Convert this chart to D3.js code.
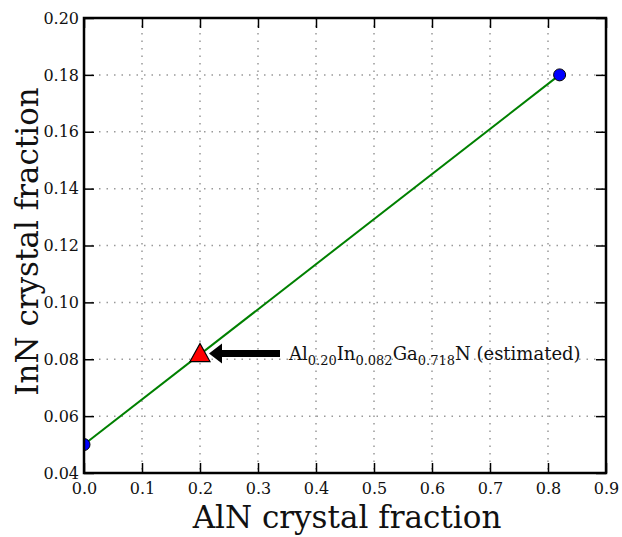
<!DOCTYPE html>
<html>
<head>
<meta charset="utf-8">
<script src="https://cdn.jsdelivr.net/npm/d3@7"></script>
<style>
	body { margin: 0; background: #fff; }
	text { font-family: "DejaVu Serif", serif; }
</style>
</head>
<body>
<script>
/* composition plot: AlN vs InN fraction, with an estimated point */
var xTicks = [0.0, 0.1, 0.2, 0.3, 0.4, 0.5, 0.6, 0.7, 0.8, 0.9];
var yTicks = [0.04, 0.06, 0.08, 0.10, 0.12, 0.14, 0.16, 0.18, 0.20];
var alnFrac = [0.0, 0.82];   // measured endpoints
var innFrac = [0.05, 0.18];
var estAl = [0.20];          // estimated composition
var estIn = [0.082];

var fullWidth = 622, fullHeight = 537;
var margin = {top: 18, right: 16, bottom: 64, left: 84},
	width = fullWidth - margin.left - margin.right,
	height = fullHeight - margin.top - margin.bottom;

var xScale = d3.scaleLinear().domain([0, 0.9]).range([0, width]);
var yScale = d3.scaleLinear().domain([0.04, 0.20]).range([height, 0]);

var svg = d3.select("body").append("svg")
	.attr("width", fullWidth)
	.attr("height", fullHeight)
	.append("g")
		.attr("transform", "translate(" + margin.left + "," + margin.top + ")");

svg.append("clipPath").attr("id", "clip")
	.append("rect").attr("width", width).attr("height", height);

// grid
svg.selectAll(".vgrid").data(xTicks).enter().append("line")
	.attr("x1", function(d) { return xScale(d); })
	.attr("x2", function(d) { return xScale(d); })
	.attr("y1", 0).attr("y2", height)
	.style("stroke", "#999").style("stroke-width", 1.5)
	.style("stroke-dasharray", "1.5,6");
svg.selectAll(".hgrid").data(yTicks).enter().append("line")
	.attr("y1", function(d) { return yScale(d); })
	.attr("y2", function(d) { return yScale(d); })
	.attr("x1", 0).attr("x2", width)
	.style("stroke", "#999").style("stroke-width", 1.5)
	.style("stroke-dasharray", "1.5,6");

// axes: ticks drawn inside, on all four sides
var xAxis = d3.axisBottom(xScale).tickValues(xTicks).tickSizeInner(-10).tickSizeOuter(0).tickPadding(10)
	.tickFormat(d3.format(".1f"));
var yAxis = d3.axisLeft(yScale).tickValues(yTicks).tickSizeInner(-10).tickSizeOuter(0).tickPadding(5)
	.tickFormat(d3.format(".2f"));

var axes = [];
axes.push(svg.append("g").attr("transform", "translate(0," + height + ")").call(xAxis));
axes.push(svg.append("g").call(yAxis));
axes.push(svg.append("g").call(d3.axisTop(xScale).tickValues(xTicks).tickSize(-10).tickFormat("")));
axes.push(svg.append("g").attr("transform", "translate(" + width + ",0)")
	.call(d3.axisRight(yScale).tickValues(yTicks).tickSize(-10).tickFormat("")));

axes.forEach(function(a) {
	a.attr("font-family", "DejaVu Serif").attr("font-size", 16);
	a.selectAll(".tick line").attr("stroke", "#000").attr("stroke-width", 1.5);
	a.selectAll(".tick text").attr("fill", "#111");
	a.select(".domain").remove();
});

// data
var pts = alnFrac.map(function(d, i) { return [d, innFrac[i]]; });
var plot = svg.append("g").attr("clip-path", "url(#clip)");
plot.append("path")
	.datum(pts)
	.attr("d", d3.line().x(function(d) { return xScale(d[0]); }).y(function(d) { return yScale(d[1]); }))
	.style("fill", "none").style("stroke", "#008000").style("stroke-width", 2);
plot.selectAll(".dot").data(pts).enter().append("circle")
	.attr("cx", function(d) { return xScale(d[0]); })
	.attr("cy", function(d) { return yScale(d[1]); })
	.attr("r", 6)
	.style("fill", "#0000ff").style("stroke", "#000").style("stroke-width", 1);

var est = estAl.map(function(d, i) { return [d, estIn[i]]; });
plot.selectAll(".tri").data(est).enter().append("path")
	.attr("transform", function(d) { return "translate(" + xScale(d[0]) + "," + yScale(d[1]) + ")"; })
	.attr("d", "M0,-10L10,8L-10,8Z")
	.style("fill", "#ff0000").style("stroke", "#000").style("stroke-width", 1.2);

// annotation arrow + label
var ax = xScale(estAl[0]), ay = yScale(estIn[0]);
svg.append("path")
	.attr("d", "M" + (ax + 9) + "," + ay + "L" + (ax + 22) + "," + (ay - 10) + "L" + (ax + 22) + "," + (ay - 3.5)
		+ "L" + (ax + 80) + "," + (ay - 3.5) + "L" + (ax + 80) + "," + (ay + 3.5)
		+ "L" + (ax + 22) + "," + (ay + 3.5) + "L" + (ax + 22) + "," + (ay + 10) + "Z")
	.style("fill", "#000");

var lbl = svg.append("text")
	.attr("x", ax + 89).attr("y", ay + 6)
	.style("font-family", "DejaVu Serif").style("font-size", "18px").style("fill", "#111");
var parts = [["Al", 0], ["0.20", 1], ["In", 0], ["0.082", 1], ["Ga", 0], ["0.718", 1], ["N (estimated)", 0]];
parts.forEach(function(p, i) {
	var prev = i > 0 ? parts[i - 1][1] : 0;
	lbl.append("tspan")
		.attr("dy", p[1] === prev ? 0 : (p[1] ? 5 : -5))
		.style("font-size", p[1] ? "13px" : "18px")
		.text(p[0]);
});

// axis labels
svg.append("text")
	.attr("x", width / 2 + 2).attr("y", height + 55)
	.style("text-anchor", "middle").style("font-size", "31px").style("fill", "#111")
	.text("AlN crystal fraction");
svg.append("text")
	.attr("transform", "rotate(-90)")
	.attr("x", -(241.5 - margin.top)).attr("y", -46)
	.style("text-anchor", "middle").style("font-size", "31px").style("fill", "#111")
	.text("InN crystal fraction");

// frame
svg.append("rect").attr("width", width).attr("height", height)
	.style("fill", "none").style("stroke", "#000").style("stroke-width", 2.5);
</script>
</body>
</html>
